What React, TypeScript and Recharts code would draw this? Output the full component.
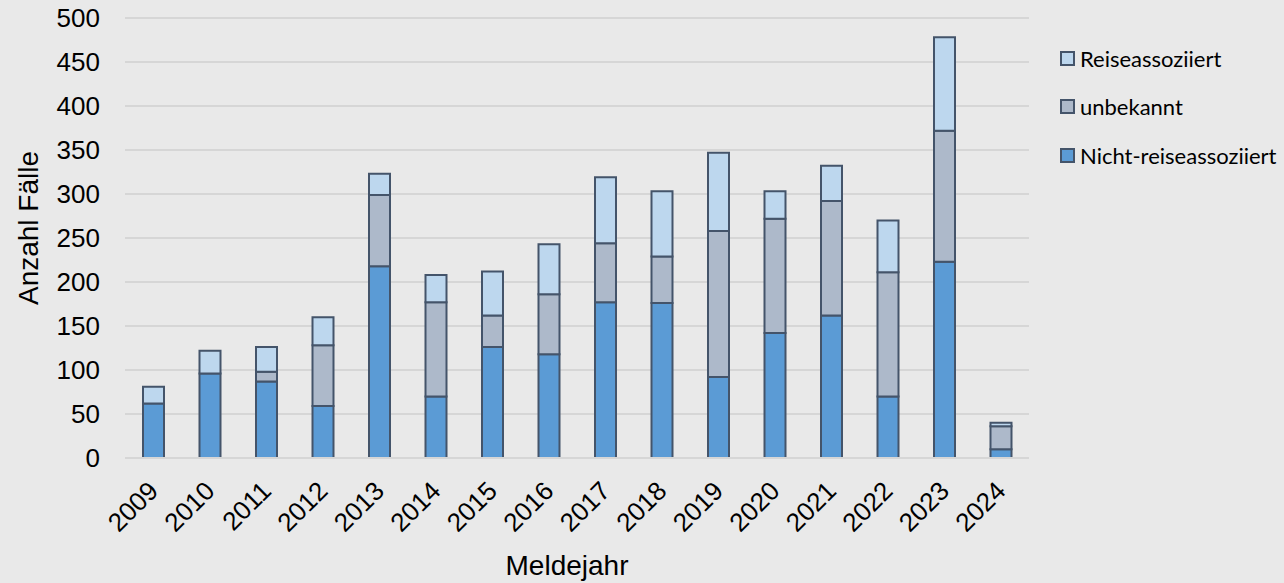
import { BarChart, Bar, XAxis, YAxis, CartesianGrid, Legend, Label } from 'recharts';

const YEARS = ['2009', '2010', '2011', '2012', '2013', '2014', '2015', '2016', '2017', '2018', '2019', '2020', '2021', '2022', '2023', '2024'];
const NICHT_REISE = [62, 96, 87, 59, 218, 70, 126, 118, 177, 176, 92, 142, 162, 70, 223, 10];
const UNBEKANNT = [0, 0, 11, 69, 81, 107, 36, 68, 67, 53, 166, 130, 130, 141, 149, 26];
const REISE = [19, 26, 28, 32, 24, 31, 50, 57, 75, 74, 89, 31, 40, 59, 106, 4];
const Y_TICKS = [0, 50, 100, 150, 200, 250, 300, 350, 400, 450, 500];

const BLUE = '#5b9bd5';
const GREY = '#adb9ca';
const LIGHT = '#bdd7ee';
const EDGE = '#44546a';
const FONT = '"Liberation Sans", Arial, sans-serif';

const data = YEARS.map((year, i) => ({
  year,
  nicht: NICHT_REISE[i],
  unbekannt: UNBEKANNT[i],
  reise: REISE[i],
}));

// legend is listed top to bottom like the stack
const LEGEND_ITEMS = [
  { name: 'Reiseassoziiert', color: LIGHT },
  { name: 'unbekannt', color: GREY },
  { name: 'Nicht-reiseassoziiert', color: BLUE },
];

function YearTick({ x, y, payload }: any) {
  return (
    <text
      x={x}
      y={y}
      transform={`rotate(-45 ${x} ${y})`}
      textAnchor="end"
      dy="0.35em"
      fontSize={26}
      fontFamily={FONT}
      fill="#000"
    >
      {payload.value}
    </text>
  );
}

function LegendBox() {
  return (
    <div style={{ fontFamily: 'Lato, sans-serif', fontSize: 22, color: '#000' }}>
      {LEGEND_ITEMS.map((item) => (
        <div key={item.name} style={{ display: 'flex', alignItems: 'center', height: 48.5 }}>
          <span
            style={{
              width: 11,
              height: 11,
              background: item.color,
              border: `2px solid ${EDGE}`,
              marginRight: 5,
              display: 'inline-block',
            }}
          />
          <span>{item.name}</span>
        </div>
      ))}
    </div>
  );
}

export default function App() {
  return (
    <div style={{ position: 'absolute', left: 0, top: 0, width: 1284, height: 583, background: '#e9e9e9' }}>
      <BarChart width={1284} height={583} data={data} margin={{ top: 18, right: 255, left: 0, bottom: 0 }} barSize={21}>
        <CartesianGrid vertical={false} stroke="#d6d6d6" strokeWidth={2} />
        <XAxis
          dataKey="year"
          height={125}
          tickSize={0}
          tickMargin={28}
          tickLine={false}
          axisLine={{ stroke: '#d6d6d6', strokeWidth: 2 }}
          tick={<YearTick />}
          interval={0}
        >
          <Label
            content={() => (
              <text x={567} y={575} textAnchor="middle" fontSize={28} fontFamily={FONT} fill="#000">
                Meldejahr
              </text>
            )}
          />
        </XAxis>
        <YAxis
          width={125}
          domain={[0, 500]}
          ticks={Y_TICKS}
          interval={0}
          tickSize={0}
          tickMargin={25}
          tickLine={false}
          axisLine={false}
          tick={{ fontSize: 26, fontFamily: FONT, fill: '#000' }}
        >
          <Label
            content={() => (
              <text
                x={38}
                y={228}
                transform="rotate(-90 38 228)"
                textAnchor="middle"
                fontSize={28}
                fontFamily={FONT}
                fill="#000"
              >
                Anzahl Fälle
              </text>
            )}
          />
        </YAxis>
        <Legend
          layout="vertical"
          align="center"
          verticalAlign="middle"
          content={() => <LegendBox />}
          wrapperStyle={{ left: 1060, top: 34, width: 224 }}
        />
        <Bar dataKey="nicht" name="Nicht-reiseassoziiert" stackId="a" fill={BLUE} stroke={EDGE} strokeWidth={2} isAnimationActive={false} />
        <Bar dataKey="unbekannt" name="unbekannt" stackId="a" fill={GREY} stroke={EDGE} strokeWidth={2} isAnimationActive={false} />
        <Bar dataKey="reise" name="Reiseassoziiert" stackId="a" fill={LIGHT} stroke={EDGE} strokeWidth={2} isAnimationActive={false} />
      </BarChart>
    </div>
  );
}
